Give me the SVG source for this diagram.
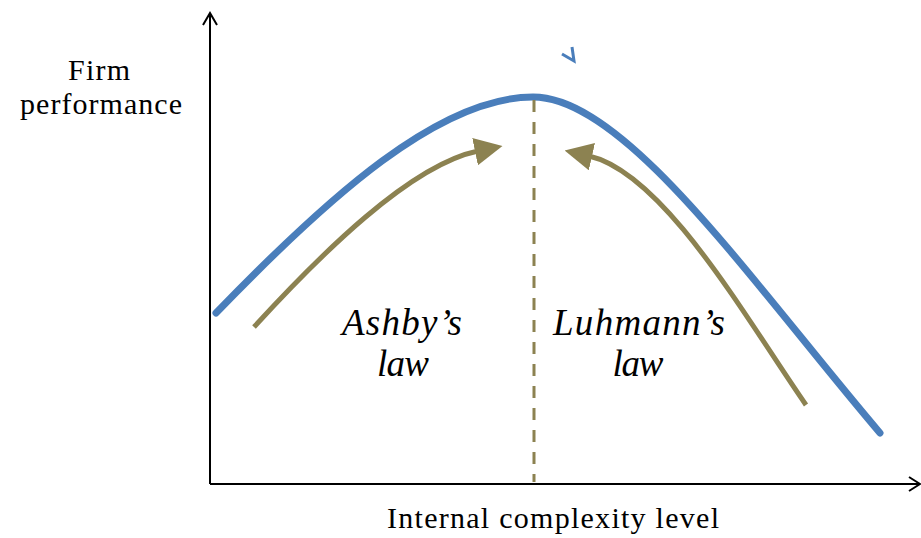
<svg xmlns="http://www.w3.org/2000/svg" width="921" height="538" viewBox="0 0 921 538">
<style>
.axis{stroke:#000;stroke-width:2;fill:none}
.curve{stroke:#4a7ebb;stroke-width:7;fill:none;stroke-linecap:round}
.law{stroke:#8c8251;stroke-width:5;fill:none}
.dash{stroke:#8c8251;stroke-width:3;stroke-dasharray:12 10;fill:none}
.lbl{font-family:"Liberation Serif","Times New Roman",serif;font-size:30px;fill:#000}
.it{font-family:"Liberation Serif","Times New Roman",serif;font-size:37px;font-style:italic;fill:#000}
</style>
<defs>
<marker id="head" viewBox="0 0 28 28" markerUnits="userSpaceOnUse" markerWidth="28" markerHeight="28" refX="3" refY="14" orient="auto">
<path d="M0,0 L28,14 L0,28 z" fill="#8c8251"/>
</marker>
</defs>
<g id="axes">
<path class="axis" d="M210,484 V14 M203,25 L210,13 L217,25"/>
<path class="axis" d="M210,484 H919 M909,477 L920,484 L909,491"/>
</g>
<g id="performance-curve">
<path class="curve" d="M216,313 C330,195 440,97 533,97 C625,97 750,280 880,433"/>
<path d="M562,54 L574,61 L572,47" stroke="#4a7ebb" stroke-width="3" fill="none"/>
</g>
<g id="connectors">
<path class="dash" d="M534,100 V482"/>
<path class="law" d="M254,327 C320,255 410,165 478,151" marker-end="url(#head)"/>
<path class="law" d="M806,405 C747,320 664,173 589,156" marker-end="url(#head)"/>
</g>
<g id="y-label">
<text class="lbl" x="99" y="80" text-anchor="middle" textLength="62">Firm</text>
<text class="lbl" x="101" y="114" text-anchor="middle" textLength="162">performance</text>
</g>
<g id="x-label">
<text class="lbl" x="553" y="528" text-anchor="middle" textLength="332">Internal complexity level</text>
</g>
<g id="ashby">
<text class="it" x="402" y="335" text-anchor="middle" textLength="120">Ashby’s</text>
<text class="it" x="403" y="376" text-anchor="middle" textLength="52">law</text>
</g>
<g id="luhmann">
<text class="it" x="639" y="335" text-anchor="middle" textLength="172">Luhmann’s</text>
<text class="it" x="638" y="376" text-anchor="middle" textLength="51">law</text>
</g>
</svg>
